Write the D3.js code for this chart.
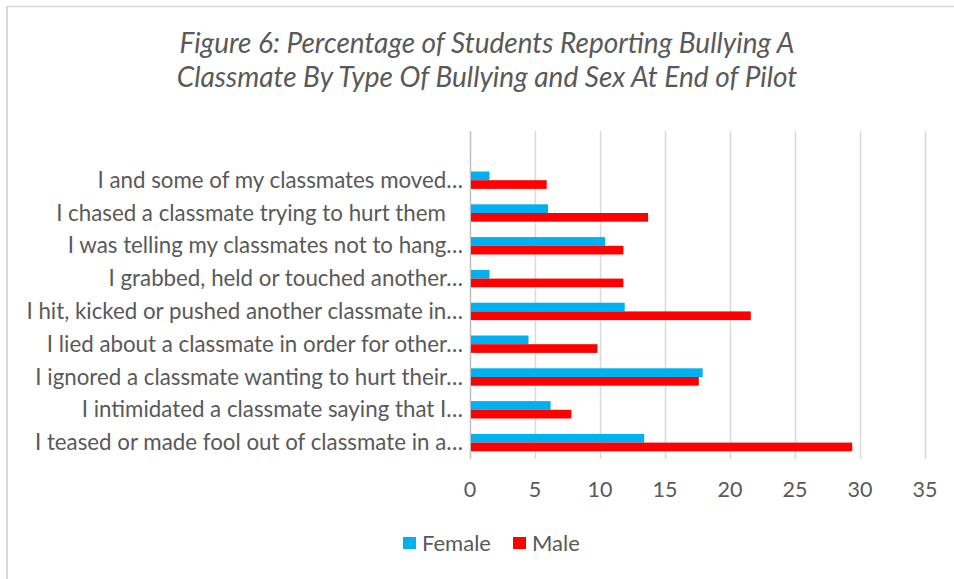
<!DOCTYPE html>
<html>
<head>
<meta charset="utf-8">
<script src="https://cdn.jsdelivr.net/npm/d3@7"></script>
<style>
  body { margin: 0; background: #fff; }
  text { font-family: Lato, "Open Sans", sans-serif; fill: #595959; }
</style>
</head>
<body>
<script>
var w = 954;
var h = 579;

// categories, top to bottom as drawn
var categories = [
	"I and some of my classmates moved…",
	"I chased a classmate trying to hurt them   ",
	"I was telling my classmates not to hang…",
	"I grabbed, held or touched another…",
	"I hit, kicked or pushed another classmate in…",
	"I lied about a classmate in order for other…",
	"I ignored a classmate wanting to hurt their…",
	"I intimidated a classmate saying that I…",
	"I teased or made fool out of classmate in a…"
];
var female = [1.5, 6.0, 10.4, 1.5, 11.9, 4.5, 17.9, 6.2, 13.4];
var male = [5.9, 13.7, 11.8, 11.8, 21.6, 9.8, 17.6, 7.8, 29.4];
var seriesNames = ["Female", "Male"];
var seriesColors = ["#00B0F0", "#FF0000"];
var xTicks = [0, 5, 10, 15, 20, 25, 30, 35];

var titleLines = [
	"Figure 6: Percentage of Students Reporting Bullying A",
	"Classmate By Type Of Bullying and Sex At End of Pilot"
];

var plotTop = 131, plotBottom = 459;

var xScale = d3.scaleLinear()
				.domain([0, 35])
				.range([470, 925]);

// the first band row is left empty, as in the source
var yScale = d3.scaleBand()
				.domain(categories)
				.range([plotTop + (plotBottom - plotTop) / 10, plotBottom])
				.paddingInner(0.47)
				.paddingOuter(0.235);

var subScale = d3.scaleBand()
				.domain(seriesNames)
				.range([0, yScale.bandwidth()]);

var svg = d3.select("body")
			.append("svg")
			.attr("width", w)
			.attr("height", h);

// chart frame (only top and left edges show)
svg.append("line")
	.attr("x1", 6).attr("x2", w).attr("y1", 6.5).attr("y2", 6.5)
	.attr("stroke", "#D9D9D9").attr("stroke-width", 1.5);
svg.append("line")
	.attr("x1", 7).attr("x2", 7).attr("y1", 6).attr("y2", h)
	.attr("stroke", "#D9D9D9").attr("stroke-width", 2);

svg.selectAll("text.title")
	.data(titleLines)
	.enter()
	.append("text")
	.attr("class", "title")
	.attr("x", 487)
	.attr("y", function(d, i) { return 53 + i * 33.5; })
	.attr("text-anchor", "middle")
	.style("font-style", "italic")
	.style("font-size", "28px")
	.text(function(d) { return d; });

// gridlines
svg.selectAll("line.grid")
	.data(xTicks)
	.enter()
	.append("line")
	.attr("class", "grid")
	.attr("x1", function(d) { return xScale(d) + 0.5; })
	.attr("x2", function(d) { return xScale(d) + 0.5; })
	.attr("y1", plotTop)
	.attr("y2", plotBottom)
	.attr("stroke", function(d) { return d === 0 ? "#BFBFBF" : "#D9D9D9"; })
	.attr("stroke-width", 1.5);

var rows = [];
categories.forEach(function(c, i) {
	rows.push({cat: c, series: "Female", value: female[i]});
	rows.push({cat: c, series: "Male", value: male[i]});
});

svg.selectAll("rect.bar")
	.data(rows)
	.enter()
	.append("rect")
	.attr("class", "bar")
	.attr("x", xScale(0) + 1)
	.attr("y", function(d) { return yScale(d.cat) + subScale(d.series); })
	.attr("width", function(d) { return xScale(d.value) - xScale(0) - 1; })
	.attr("height", subScale.bandwidth())
	.attr("fill", function(d) { return seriesColors[seriesNames.indexOf(d.series)]; });

// category labels
svg.selectAll("text.cat")
	.data(categories)
	.enter()
	.append("text")
	.attr("class", "cat")
	.attr("x", 463)
	.attr("y", function(d) { return yScale(d) + yScale.bandwidth() / 2 + 7.5; })
	.attr("text-anchor", "end")
	.style("font-size", "22.3px")
	.style("white-space", "pre")
	.text(function(d) { return d; });

// value axis labels
svg.selectAll("text.tick")
	.data(xTicks)
	.enter()
	.append("text")
	.attr("class", "tick")
	.attr("x", function(d) { return xScale(d); })
	.attr("y", 497)
	.attr("text-anchor", "middle")
	.style("font-size", "21.5px")
	.text(function(d) { return d; });

// legend
var legendX = [403, 513];
var legend = svg.selectAll("g.legend")
	.data(seriesNames)
	.enter()
	.append("g")
	.attr("class", "legend")
	.attr("transform", function(d, i) { return "translate(" + legendX[i] + ",537)"; });

legend.append("rect")
	.attr("width", 13)
	.attr("height", 12)
	.attr("fill", function(d, i) { return seriesColors[i]; });

legend.append("text")
	.attr("x", 19)
	.attr("y", 13.5)
	.style("font-size", "22px")
	.text(function(d) { return d; });
</script>
</body>
</html>
